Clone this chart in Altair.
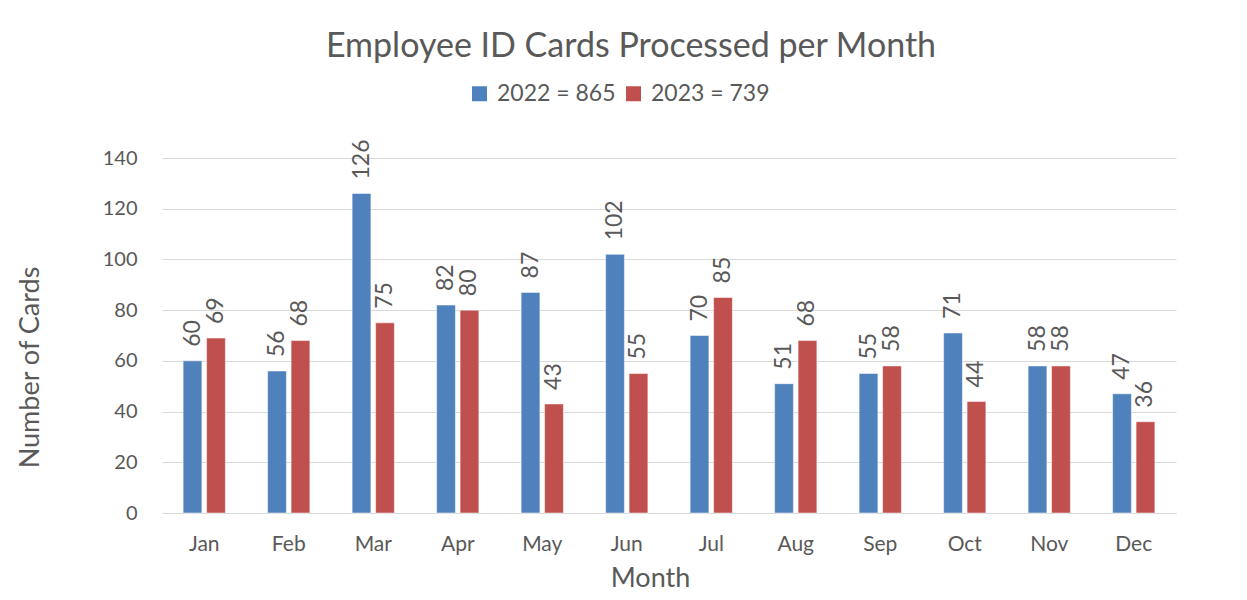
import altair as alt
import pandas as pd

months = ["Jan", "Feb", "Mar", "Apr", "May", "Jun", "Jul", "Aug", "Sep", "Oct", "Nov", "Dec"]
values_2022 = [60, 56, 126, 82, 87, 102, 70, 51, 55, 71, 58, 47]
values_2023 = [69, 68, 75, 80, 43, 55, 85, 68, 58, 44, 58, 36]
series_colors = ["#4F81BD", "#C0504D"]

s1 = f"2022 = {sum(values_2022)}"
s2 = f"2023 = {sum(values_2023)}"

rows = []
for m, a, b in zip(months, values_2022, values_2023):
    rows.append({"Month": m, "Series": s1, "Value": a})
    rows.append({"Month": m, "Series": s2, "Value": b})
df = pd.DataFrame(rows)

FONT = "Lato"
GREY = "#595959"

x = alt.X("Month:N", sort=months,
          scale=alt.Scale(paddingInner=0.5, paddingOuter=0.25),
          axis=alt.Axis(title="Month", labelAngle=0, labelFontSize=21, labelColor=GREY,
                        labelPadding=20, ticks=False, domainColor="#d9d9d9", domainWidth=1,
                        titleFontSize=27, titleColor=GREY, titleFontWeight="normal",
                        titleX=488, titleY=65, titleAlign="center", titleBaseline="middle",
                        labelFont=FONT, titleFont=FONT))
xo = alt.XOffset("Series:N", sort=[s1, s2], scale=alt.Scale(paddingInner=0.2))
y = alt.Y("Value:Q", scale=alt.Scale(domain=[0, 140], nice=False),
          axis=alt.Axis(title="Number of Cards", values=list(range(0, 141, 20)),
                        labelFontSize=20, labelColor=GREY, labelPadding=25, ticks=False,
                        domain=False, gridColor="#d9d9d9", gridWidth=1,
                        titleFontSize=27, titleColor=GREY, titleFontWeight="normal",
                        titleAngle=-90, titleX=-132, titleY=209, titleAlign="center",
                        titleBaseline="middle", labelFont=FONT, titleFont=FONT))
color = alt.Color("Series:N", sort=[s1, s2],
                  scale=alt.Scale(domain=[s1, s2], range=series_colors),
                  legend=alt.Legend(title=None, orient="none", direction="horizontal",
                                    legendX=306, legendY=-76, symbolType="square",
                                    symbolSize=225, symbolStrokeWidth=0, labelFontSize=23,
                                    labelColor=GREY, labelFont=FONT, labelOffset=6,
                                    columnPadding=6, padding=0))

base = alt.Chart(df)
bars = base.mark_bar(stroke="white", strokeWidth=0.5).encode(x=x, xOffset=xo, y=y, color=color)
labels = base.mark_text(angle=270, align="left", baseline="middle", dx=14,
                        fontSize=23, color=GREY, font=FONT).encode(
    x=x, xOffset=xo, y=y, text="Value:Q")

chart = alt.layer(bars, labels).properties(
    width=1014, height=355,
    title=alt.TitleParams("Employee ID Cards Processed per Month", fontSize=34, color=GREY,
                          font=FONT, fontWeight="normal", anchor="middle", dx=-38, offset=18),
    autosize=alt.AutoSizeParams(type="none"),
    padding={"left": 154, "top": 150, "right": 63, "bottom": 79},
    background="white",
).configure_view(stroke=None)

chart.save("out.html", embed_options={"renderer": "svg", "actions": False})
